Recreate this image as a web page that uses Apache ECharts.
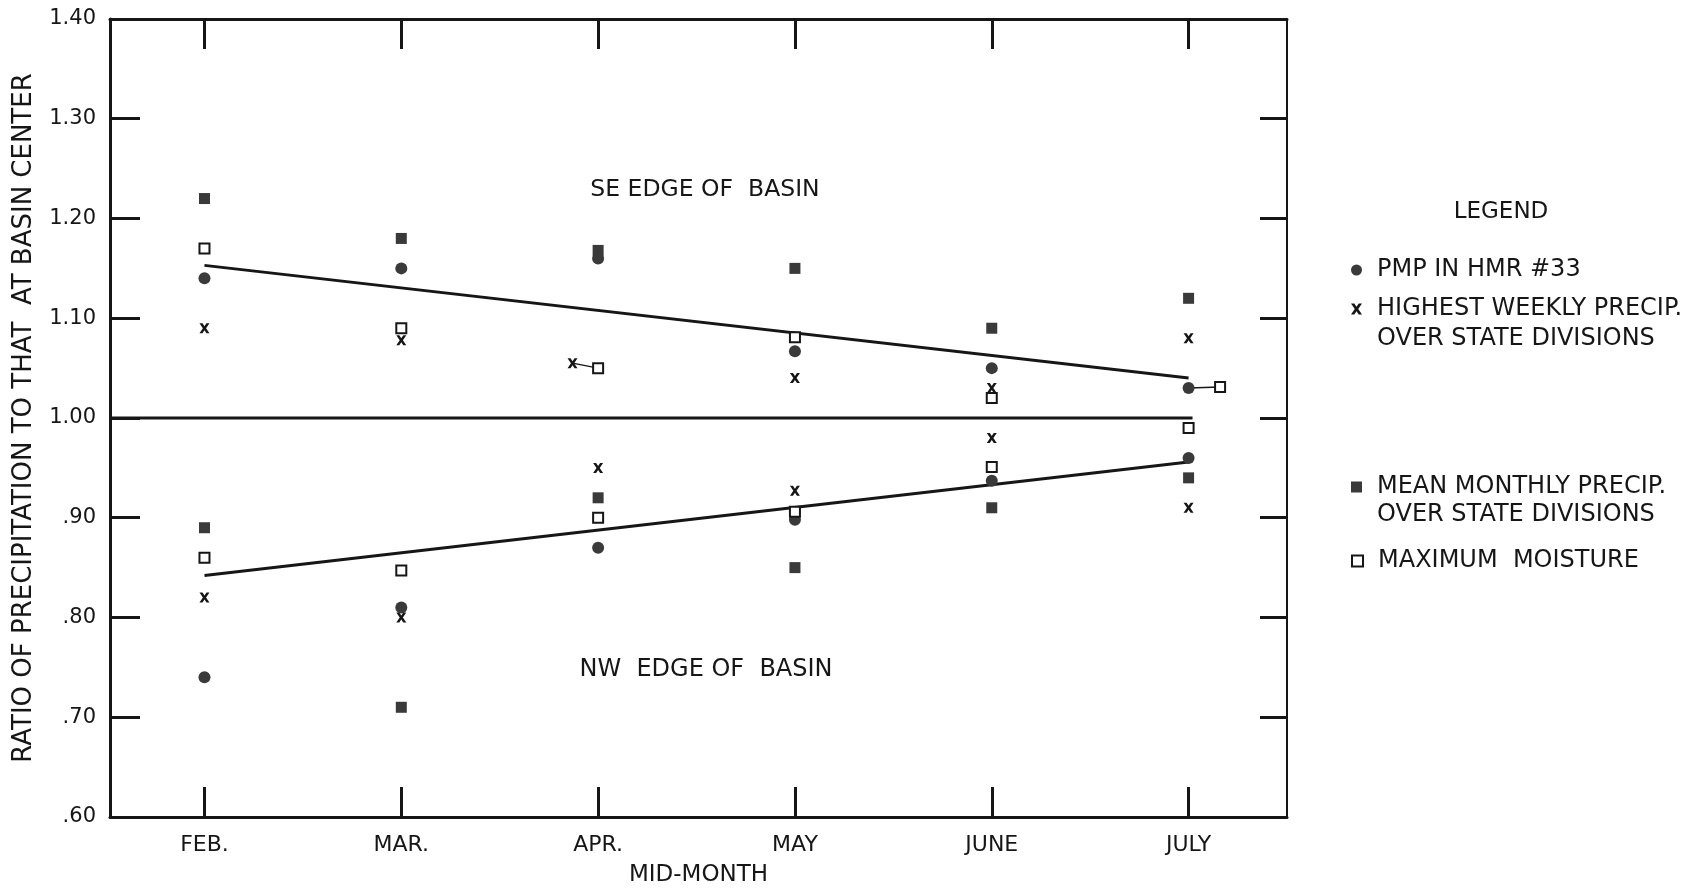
<!DOCTYPE html>
<html>
<head>
<meta charset="utf-8">
<script src="https://cdn.jsdelivr.net/npm/echarts@6/dist/echarts.min.js"></script>
<style>
  html, body { margin: 0; padding: 0; background: #fff; }
  #chart { width: 1694px; height: 890px; }
</style>
</head>
<body>
<div id="chart"></div>
<script>
// ---- Data ----
const months = ['FEB.', 'MAR.', 'APR.', 'MAY', 'JUNE', 'JULY'];
const monthIdx = [0, 1, 2, 3, 4, 5];

// PMP in HMR #33 (filled circle)
const pmpSE = [1.14, 1.15, 1.16, 1.067, 1.05, 1.03];
const pmpNW = [0.74, 0.81, 0.87, 0.898, 0.937, 0.96];

// Highest weekly precip. over state divisions (x)
const weeklySE = [1.09, 1.078, 1.055, 1.04, 1.03, 1.08];
const weeklySEx = [0, 1, 1.87, 3, 4, 5];
const weeklyNW = [0.82, 0.80, 0.95, 0.927, 0.98, 0.91];

// Mean monthly precip. over state divisions (filled square)
const meanSE = [1.22, 1.18, 1.168, 1.15, 1.09, 1.12];
const meanNW = [0.89, 0.71, 0.92, 0.85, 0.91, 0.94];

// Maximum moisture (open square)
const moistSE = [1.17, 1.09, 1.05, 1.081, 1.02, 1.031];
const moistSEx = [0, 1, 2, 3, 4, 5.16];
const moistNW = [0.86, 0.847, 0.90, 0.906, 0.951, 0.99];

// Fitted trend lines (start FEB, end JULY)
const fitSE = [[0, 1.153], [5, 1.040]];
const fitNW = [[0, 0.842], [5, 0.956]];
// Reference 1.00 line
const baseLine = [[-0.48, 1.0], [5.02, 1.0]];
// Leader lines joining displaced symbols to their positions
const leaderApr = [[1.87, 1.055], [2, 1.05]];
const leaderJul = [[5, 1.03], [5.16, 1.031]];

const names = {
  pmp: 'PMP IN HMR #33',
  weekly: 'HIGHEST WEEKLY PRECIP.\nOVER STATE DIVISIONS',
  mean: 'MEAN MONTHLY PRECIP.\nOVER STATE DIVISIONS',
  moist: 'MAXIMUM  MOISTURE'
};

// ---- helpers ----
function pairs(xs, ys) { return ys.map((y, i) => [xs[i], y]); }
const FONT = 'DejaVu Sans';
const INK = '#161616';
const MARK = '#3a3a3a';
const xPath = 'path://M0,0L3,0L5,3L7,0L10,0L6.6,5L10,10L7,10L5,7L3,10L0,10L3.4,5Z';

const chart = echarts.init(document.getElementById('chart'), null, { renderer: 'canvas' });

const xCommon = {
  type: 'value', min: -0.48, max: 5.5,
  splitLine: { show: false },
  axisTick: { show: true, inside: true, length: 30, customValues: monthIdx,
              lineStyle: { color: INK, width: 3 } }
};

const legendText = (lh) => ({ color: INK, fontFamily: FONT, fontSize: 24, lineHeight: lh, padding: [0, 0, 0, 10] });

const option = {
  animation: false,
  backgroundColor: '#fff',
  grid: { left: 110, right: 407, top: 19, bottom: 73, containLabel: false, outerBoundsMode: 'none' },
  xAxis: [
    Object.assign({}, xCommon, {
      position: 'bottom',
      axisLine: { show: true, onZero: false, lineStyle: { color: INK, width: 3 } },
      axisLabel: { show: true, customValues: monthIdx, margin: 17,
                   formatter: v => months[Math.round(v)],
                   color: INK, fontFamily: FONT, fontSize: 22 },
      name: 'MID-MONTH', nameLocation: 'middle', nameGap: 47,
      nameTextStyle: { color: INK, fontFamily: FONT, fontSize: 23 }
    }),
    Object.assign({}, xCommon, {
      position: 'top',
      axisLine: { show: true, onZero: false, lineStyle: { color: INK, width: 3 } },
      axisLabel: { show: false }
    })
  ],
  yAxis: [
    {
      type: 'value', min: 0.6, max: 1.4, interval: 0.1, position: 'left',
      splitLine: { show: false },
      axisLine: { show: true, onZero: false, lineStyle: { color: INK, width: 3 } },
      axisTick: { show: true, inside: true, length: 30, lineStyle: { color: INK, width: 3 } },
      axisLabel: {
        show: true, margin: 14, color: INK, fontFamily: FONT, fontSize: 21,
        formatter: v => { const s = v.toFixed(2); return v < 1 ? s.slice(1) : s; }
      },
      name: 'RATIO OF PRECIPITATION TO THAT  AT BASIN CENTER',
      nameLocation: 'middle', nameGap: 73,
      nameTextStyle: { color: INK, fontFamily: FONT, fontSize: 26 }
    },
    {
      type: 'value', min: 0.6, max: 1.4, interval: 0.1, position: 'right',
      splitLine: { show: false },
      axisLine: { show: true, onZero: false, lineStyle: { color: INK, width: 2 } },
      axisTick: { show: true, inside: true, length: 27, lineStyle: { color: INK, width: 3 } },
      axisLabel: { show: false }
    }
  ],
  legend: [
    { data: [names.pmp], left: 1351, top: 255, padding: 0, itemWidth: 11, itemHeight: 11,
      textStyle: legendText(30) },
    { data: [names.weekly], left: 1351, top: 264, padding: 0, itemWidth: 11, itemHeight: 11,
      formatter: n => '\n' + n, textStyle: legendText(30) },
    { data: [names.mean], left: 1351, top: 445, padding: 0, itemWidth: 11, itemHeight: 11,
      formatter: n => '\n' + n, textStyle: legendText(28) },
    { data: [names.moist], left: 1351, top: 547, padding: 0, itemWidth: 11, itemHeight: 11,
      textStyle: legendText(28) }
  ],
  graphic: [
    { type: 'text', x: 1501, y: 212, style: { text: 'LEGEND', fill: INK, font: '23px "DejaVu Sans"', align: 'center', verticalAlign: 'middle' } },
    { type: 'text', x: 705, y: 190, style: { text: 'SE EDGE OF  BASIN', fill: INK, font: '23.5px "DejaVu Sans"', align: 'center', verticalAlign: 'middle' } },
    { type: 'text', x: 706, y: 670, style: { text: 'NW  EDGE OF  BASIN', fill: INK, font: '24px "DejaVu Sans"', align: 'center', verticalAlign: 'middle' } }
  ],
  series: [
    { type: 'line', name: 'base', data: baseLine, symbol: 'none', silent: true,
      lineStyle: { color: INK, width: 3 }, z: 1 },
    { type: 'line', name: 'fitSE', data: fitSE, symbol: 'none', silent: true,
      lineStyle: { color: INK, width: 3 }, z: 1 },
    { type: 'line', name: 'fitNW', data: fitNW, symbol: 'none', silent: true,
      lineStyle: { color: INK, width: 3 }, z: 1 },
    { type: 'line', name: 'leaderApr', data: leaderApr, symbol: 'none', silent: true,
      lineStyle: { color: INK, width: 1.5 }, z: 1 },
    { type: 'line', name: 'leaderJul', data: leaderJul, symbol: 'none', silent: true,
      lineStyle: { color: INK, width: 1.5 }, z: 1 },
    { type: 'scatter', name: names.mean, symbol: 'rect', symbolSize: 11,
      itemStyle: { color: MARK, opacity: 1 }, z: 3,
      data: pairs(monthIdx, meanSE).concat(pairs(monthIdx, meanNW)) },
    { type: 'scatter', name: names.pmp, symbol: 'circle', symbolSize: 12,
      itemStyle: { color: MARK, opacity: 1 }, z: 4,
      data: pairs(monthIdx, pmpSE).concat(pairs(monthIdx, pmpNW)) },
    { type: 'scatter', name: names.moist, symbol: 'rect', symbolSize: 10,
      itemStyle: { color: '#fff', borderColor: INK, borderWidth: 2, opacity: 1 }, z: 5,
      data: pairs(moistSEx, moistSE).concat(pairs(monthIdx, moistNW)) },
    { type: 'scatter', name: names.weekly, symbol: xPath, symbolSize: 10,
      itemStyle: { color: INK, opacity: 1 }, z: 6,
      data: pairs(weeklySEx, weeklySE).concat(pairs(monthIdx, weeklyNW)) }
  ]
};

chart.setOption(option);
</script>
</body>
</html>
